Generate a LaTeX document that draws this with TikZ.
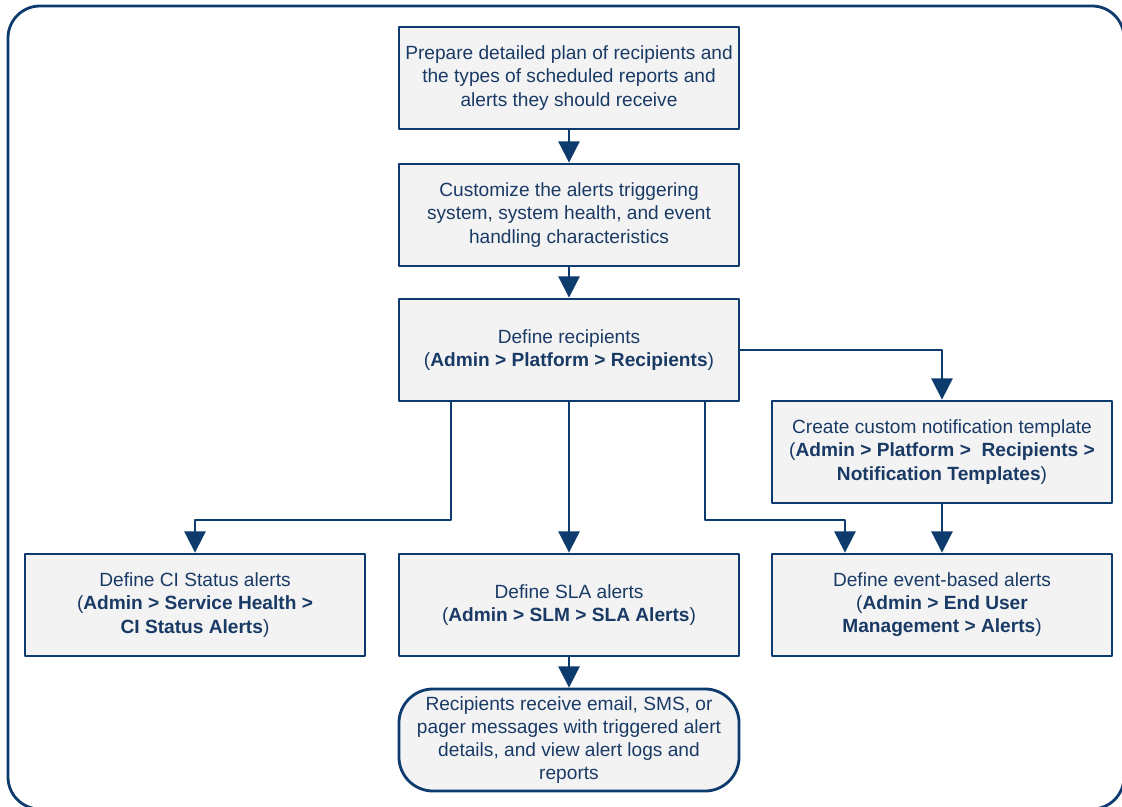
\documentclass[tikz,border=0pt]{standalone}
\usepackage{fontspec}
\setmainfont{Liberation Sans}
\usepackage{xcolor}
\usetikzlibrary{arrows.meta,positioning}
\definecolor{navy}{HTML}{0D3B6E}
\definecolor{navytext}{HTML}{1A3A66}
\definecolor{boxfill}{HTML}{F3F3F3}
\tikzset{
  every picture/.style={line join=round, >={Triangle[width=15pt,length=15pt]}},
  stepbox/.style={draw=navy, line width=2pt, fill=boxfill, text=navytext,
    minimum width=8.5cm, minimum height=2.55cm, align=center,
    font=\fontsize{13.6}{16.4}\selectfont},
  endbox/.style={stepbox, rounded corners=0.85cm},
  arr/.style={->, draw=navy, line width=1.4pt},
}

\begin{document}
\begin{tikzpicture}[x=0.025cm,y=-0.025cm]
\clip(0,0)rectangle(1122,807);
\draw[navy,line width=2pt,rounded corners=0.8cm](8,6)rectangle(1124,809);
% main column
\node[stepbox](plan)at(569,78){Prepare detailed plan of recipients and\\the types of scheduled reports and\\alerts they should receive};
\node[stepbox](custom)at(569,215){Customize the alerts triggering\\system, system health, and event\\handling characteristics};
\node[stepbox](recip)at(569,350){Define recipients\\(\textbf{Admin > Platform > Recipients})};
\node[stepbox](templ)at(942,452){Create custom notification template\\(\textbf{Admin > Platform >\ \ Recipients >}\\\textbf{Notification Templates})};
% alert boxes
\node[stepbox](ci)at(195,605){Define CI Status alerts\\(\textbf{Admin > Service Health >}\\\textbf{CI Status Alerts})};
\node[stepbox](sla)at(569,605){Define SLA alerts\\(\textbf{Admin > SLM > SLA Alerts})};
\node[stepbox](event)at(942,605){Define event-based alerts\\(\textbf{Admin > End User}\\\textbf{Management > Alerts})};
\node[endbox](receive)at(569,740){Recipients receive email, SMS, or\\pager messages with triggered alert\\details, and view alert logs and\\reports};
% connectors
\draw[arr](plan)--(custom);
\draw[arr](custom)--(recip);
\draw[arr](recip.east)-|(templ.north);
\draw[arr]([xshift=-2.95cm]recip.south)--++(0,118)-|(ci.north);
\draw[arr](recip)--(sla);
\draw[arr]([xshift=3.4cm]recip.south)--++(0,118)-|([xshift=-2.425cm]event.north);
\draw[arr](templ)--(event);
\draw[arr](sla)--(receive);
\end{tikzpicture}
\end{document}
